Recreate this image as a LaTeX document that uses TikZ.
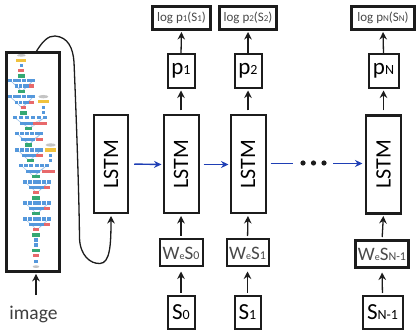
\documentclass[tikz,border=0pt]{standalone}
\usepackage{fontspec}
\setmainfont{Carlito}
\usetikzlibrary{arrows.meta}
\definecolor{incblue}{HTML}{5598DC}
\definecolor{incgreen}{HTML}{35A873}
\definecolor{incred}{HTML}{E8696B}
\definecolor{incyellow}{HTML}{F0C23E}
\definecolor{incgrey}{HTML}{C4C4C4}
\definecolor{hidden}{HTML}{1F3FB5}
\definecolor{ink}{HTML}{1C1C1C}
\newcommand{\fs}[1]{\fontsize{#1}{#1}\selectfont}
\newcommand{\low}[1]{{\fs{14}#1}}
% small blocks of the convolutional network, coordinates in thirds of a unit
\newcommand{\blk}[4]{\fill[#3] ({#1-#4/2},{#2-5}) rectangle ({#1+#4/2},{#2+5});}
% one inception module: upper row, lower row, red pooling block
\newcommand{\incmod}[7]{%
  \draw[incblue!60,line width=.4pt] (#1,#3) -- (#4,#3+17) (#2,#3) -- (#5,#3+17)
    (#1,#3) -- ({(#1+#2)/2},#3+33) (#2,#3) -- ({(#1+#2)/2},#3+33)
    (#4,#3+17) -- ({(#1+#2)/2},#3+33) (#5,#3+17) -- ({(#1+#2)/2},#3+33);
  \foreach \bx in {0,1,...,5}{\blk{#1+(#2-#1)*\bx/5}{#3}{incblue}{12}}
  \foreach \bx in {0,1,2,3}{\blk{#4+(#5-#4)*\bx/3}{#3+17}{incblue}{11}}
  \blk{#6}{#3+17}{incred}{#7}}
\tikzset{
  box/.style={draw=ink,rectangle,inner sep=0pt,outer sep=0pt,line width=2pt,text=ink,align=center},
  heavy/.style={box,line width=2.5pt},
  up/.style={draw=ink,line width=1.3pt,-{Stealth[length=7.5pt,width=7.5pt]}},
  flow/.style={draw=hidden,line width=1.4pt,-{Stealth[length=7.5pt,width=7pt]}},
  lstmtext/.style={rotate=90,font=\fs{22}},
  ptext/.style={font=\fs{23}},
  logtext/.style={font=\fs{13},text=ink!80},
  wtext/.style={font=\fs{19},text=ink!80},
  stext/.style={font=\fs{23}}
}
\begin{document}
\begin{tikzpicture}[x=1pt,y=-1pt]
\useasboundingbox (0,0) rectangle (417,336);
\fill[white] (0,0) rectangle (417,336);

% convolutional network inside the image column
\begin{scope}[x=.3333pt,y=-.3333pt]
  \fill[incgrey] (64,166) ellipse (13 and 4);
  \blk{64}{181}{incyellow}{30}
  \blk{64}{197}{incblue}{10}
  \blk{64}{212}{incred}{18}
  \blk{64}{228}{incgreen}{22}
  \incmod{30}{100}{241}{50}{85}{95}{16}
  \blk{64}{274}{incgreen}{22}
  \incmod{30}{100}{290}{50}{85}{95}{16}
  \blk{70}{323}{incred}{16}
  \blk{70}{339}{incgreen}{22}
  \fill[incgrey] (130,290) ellipse (15 and 5);
  \blk{130}{305}{incyellow}{32}
  \blk{130}{322}{incblue}{10}
  \blk{130}{338}{incblue}{10}
  \incmod{44}{134}{353}{66}{100}{120}{40}
  \blk{85}{386}{incgreen}{22}
  \incmod{52}{124}{401}{68}{100}{118}{20}
  \blk{85}{435}{incgreen}{22}
  \fill[incgrey] (152,435) ellipse (15 and 5);
  \blk{152}{450}{incyellow}{32}
  \blk{152}{466}{incblue}{10}
  \blk{152}{482}{incblue}{10}
  \incmod{52}{124}{450}{72}{104}{118}{20}
  \blk{92}{482}{incgreen}{22}
  \incmod{64}{140}{497}{84}{116}{145}{40}
  \blk{108}{530}{incgreen}{22}
  \incmod{75}{147}{546}{94}{126}{140}{18}
  \blk{108}{578}{incred}{16}
  \blk{108}{594}{incgreen}{22}
  \incmod{75}{147}{609}{94}{126}{140}{18}
  \blk{108}{641}{incgreen}{22}
  \incmod{75}{147}{657}{94}{126}{140}{18}
  \blk{108}{689}{incred}{16}
  \blk{108}{705}{incgreen}{24}
  \blk{108}{720}{incblue}{10}
  \blk{108}{735}{incblue}{10}
  \blk{108}{751}{incgreen}{26}
  \blk{108}{767}{incred}{16}
  \blk{108}{785}{incblue}{12}
  \fill[incgrey] (108,800) ellipse (10 and 4);
\end{scope}

% image column and its input
\node[box,line width=2.8pt,minimum width=53pt,minimum height=219pt] (img) at (33.3,162.3) {};
\node[font=\fs{19.5},text=ink!85] (imglabel) at (33.5,314) {image};
\coordinate (imgin) at (36,295);
\coordinate (imgtop) at (36,52);
\draw[up,shorten >=2pt] (imgin) -- (imgin |- img.south);

% encoder LSTM
\node[box,minimum width=34.5pt,minimum height=98pt] (enc) at (111,164) {};
\node[lstmtext] at (enc.center) {LSTM};

% recurrent LSTM column bodies
\node[box,minimum width=35pt,minimum height=98pt] (l0) at (181,164.5) {};
\node[lstmtext] at (l0.center) {LSTM};
\node[box,minimum width=35pt,minimum height=98pt] (l1) at (248,164.5) {};
\node[lstmtext] at (l1.center) {LSTM};
\node[heavy,minimum width=35pt,minimum height=98pt] (ln) at (383.5,164.5) {};
\node[lstmtext] at (ln.center) {LSTM};

% log probabilities
\node[heavy,minimum width=58pt,minimum height=23pt] (log1) at (181.5,18) {};
\node[logtext] at (log1.center) {log p{\fs{9}1}(S{\fs{9}1})};
\node[heavy,minimum width=57pt,minimum height=23pt] (log2) at (248,18) {};
\node[logtext] at (log2.center) {log p{\fs{9}2}(S{\fs{9}2})};
\node[heavy,minimum width=63pt,minimum height=23pt] (logn) at (383,18) {};
\node[logtext] at (logn.center) {log p{\fs{9}N}(S{\fs{9}N})};

% word probabilities
\node[box,minimum width=27pt,minimum height=34pt] (p1) at (181,71) {};
\node[ptext] at (p1.center) {p\low{1}};
\node[box,minimum width=27pt,minimum height=34pt] (p2) at (248,71) {};
\node[ptext] at (p2.center) {p\low{2}};
\node[box,minimum width=30pt,minimum height=34pt] (pn) at (383.5,71) {};
\node[ptext] at (pn.center) {p\low{N}};

% word embeddings
\node[box,minimum width=43pt,minimum height=27pt] (we0) at (181,253) {};
\node[wtext] at (we0.center) {W{\fs{10}e}S{\fs{12}0}};
\node[box,minimum width=42pt,minimum height=27pt] (we1) at (247.5,253) {};
\node[wtext] at (we1.center) {W{\fs{10}e}S{\fs{12}1}};
\node[heavy,minimum width=53pt,minimum height=27pt] (wen) at (382,254) {};
\node[wtext] at (wen.center) {W{\fs{10}e}S{\fs{12}N-1}};

% input words
\node[box,minimum width=27pt,minimum height=33pt] (s0) at (181,312) {};
\node[stext] at (s0.center) {S\low{0}};
\node[box,minimum width=26pt,minimum height=33pt] (s1) at (247.5,312) {};
\node[stext] at (s1.center) {S\low{1}};
\node[box,minimum width=40pt,minimum height=33pt] (sn) at (382.5,312.5) {};
\node[stext] at (sn.center) {S\low{N-1}};

% upward connectors in each column
\foreach \a/\b in {p1/log1,p2/log2,pn/logn}{
  \draw[up,shorten <=1pt,shorten >=2.5pt] (\a.north) -- (\b.south);}
\foreach \a/\b in {l0/p1,l1/p2,ln/pn}{
  \draw[up,shorten <=5pt,shorten >=2.5pt] (\a.north) -- (\b.south);}
\foreach \a/\b in {we0/l0,we1/l1,wen/ln}{
  \draw[up,shorten <=3.5pt,shorten >=2.5pt] (\a.north) -- (\b.south);}
\foreach \a/\b in {s0/we0,s1/we1,sn/wen}{
  \draw[up,shorten <=3pt,shorten >=5pt] (\a.north) -- (\b.south);}

% horizontal hidden-state connectors
\draw[flow,shorten <=6pt,shorten >=2pt] (enc.east) -- (l0.west);
\draw[flow,shorten <=5pt,shorten >=2pt] (l0.east) -- (l1.west);
\coordinate (gapa) at (293,163.5);
\coordinate (gapb) at (333,163.5);
\draw[draw=hidden,line width=1.4pt,shorten <=5pt] (l1.east |- gapa) -- (gapa);
\draw[flow,shorten >=3.5pt] (gapb) -- (ln.west |- gapb);
\fill[ink] (303,163) circle (2.6) (313.5,163) circle (2.6) (324,163) circle (2.6);

% image features carried to the encoder
\draw[draw=ink,line width=1.3pt,shorten >=3pt,-{Stealth[length=7.5pt,width=7.5pt]}]
  (imgtop) .. controls (42,42) and (48,35.5) .. (55,36)
  .. controls (68,37) and (73,48) .. (74,62)
  .. controls (76,110) and (79,190) .. (79.5,238)
  .. controls (80,255) and (90,264) .. (100,263.5)
  .. controls (110,263) and (111,245) .. (enc.south);
\end{tikzpicture}
\end{document}
